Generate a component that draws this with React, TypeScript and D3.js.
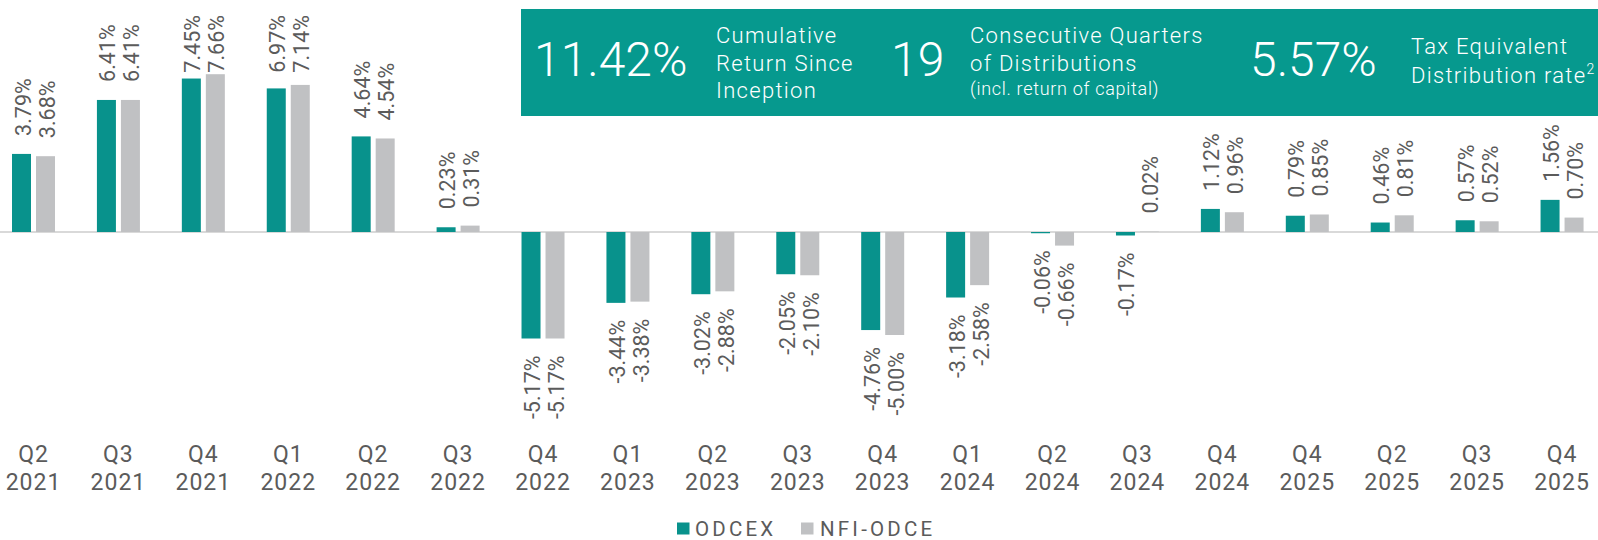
import React from 'react';
import * as d3 from 'd3';

const quarters = ['Q2', 'Q3', 'Q4', 'Q1', 'Q2', 'Q3', 'Q4', 'Q1', 'Q2', 'Q3', 'Q4', 'Q1', 'Q2', 'Q3', 'Q4', 'Q4', 'Q2', 'Q3', 'Q4'];
const years = ['2021', '2021', '2021', '2022', '2022', '2022', '2022', '2023', '2023', '2023', '2023', '2024', '2024', '2024', '2024', '2025', '2025', '2025', '2025'];

const seriesNames = ['ODCEX', 'NFI-ODCE'];
const odcex = [3.79, 6.41, 7.45, 6.97, 4.64, 0.23, -5.17, -3.44, -3.02, -2.05, -4.76, -3.18, -0.06, -0.17, 1.12, 0.79, 0.46, 0.57, 1.56];
const nfiOdce = [3.68, 6.41, 7.66, 7.14, 4.54, 0.31, -5.17, -3.38, -2.88, -2.10, -5.00, -2.58, -0.66, 0.02, 0.96, 0.85, 0.81, 0.52, 0.70];

const TEAL = '#08928C';
const BANNER = '#06998E';
const GRAY = '#C0C1C3';
const TEXT = '#5B5B5B';
const FONT = 'Roboto, "Open Sans", sans-serif';

const width = 1598;
const height = 540;

const App = () => {
  const idx = d3.range(quarters.length);
  const step = 84.92;
  const x0 = 33.5 - step / 2;
  const x = d3.scaleBand<number>()
    .domain(idx)
    .range([x0, x0 + step * idx.length]);

  const xs = d3.scaleBand<string>()
    .domain(seriesNames)
    .range([step / 2 - 21.5, step / 2 + 21.5])
    .paddingInner(5 / 24);

  const zeroY = 232;
  const pxPerPct = 20.6;
  const y = d3.scaleLinear()
    .domain([-6, 8])
    .range([zeroY + 6 * pxPerPct, zeroY - 8 * pxPerPct]);

  const labelSize = 21.5;
  const labelLen = labelSize * 2.7;
  const topLimit = 15;

  const bars = idx.flatMap(i => [
    { i, key: seriesNames[0], v: odcex[i], color: TEAL },
    { i, key: seriesNames[1], v: nfiOdce[i], color: GRAY }
  ]);

  const fmt = (v: number) => `${v.toFixed(2)}%`;

  const mid = { fontSize: '22px', letterSpacing: '1.3px' };

  return (
    <div style={{ position: 'absolute', left: 0, top: 0 }}>
      <svg width={width} height={height} style={{ display: 'block', fontFamily: FONT }}>
        {/* zero line */}
        <line x1={0} x2={width} y1={y(0)} y2={y(0)} stroke="#D9D9D9" strokeWidth={2} />

        {/* bars */}
        {bars.map(b => {
          const bx = (x(b.i) as number) + (xs(b.key) as number);
          const top = Math.min(y(b.v), y(0));
          const h = Math.abs(y(b.v) - y(0));
          return (
            <rect key={`${b.key}-${b.i}`} x={bx} y={top} width={xs.bandwidth()} height={h} fill={b.color} />
          );
        })}

        {/* value labels */}
        {bars.map(b => {
          const cx = (x(b.i) as number) + (xs(b.key) as number) + xs.bandwidth() / 2 + 9;
          let ty: number;
          let anchor: 'start' | 'end';
          if (b.v >= 0) {
            ty = y(b.v) - 18;
            anchor = 'start';
            if (ty - labelLen < topLimit) {
              ty = topLimit;
              anchor = 'end';
            }
          } else {
            ty = y(b.v) + 17;
            anchor = 'end';
          }
          return (
            <text
              key={`l-${b.key}-${b.i}`}
              transform={`translate(${cx}, ${ty}) rotate(-90)`}
              textAnchor={anchor}
              fill={TEXT}
              style={{ fontSize: `${labelSize}px`, fontWeight: 400 }}
            >
              {fmt(b.v)}
            </text>
          );
        })}

        {/* x-axis labels */}
        {idx.map(i => {
          const cx = (x(i) as number) + step / 2;
          return (
            <g key={`x-${i}`} fill={TEXT} style={{ fontSize: '23px', fontWeight: 400, letterSpacing: '1px' }}>
              <text x={cx} y={461.5} textAnchor="middle">{quarters[i]}</text>
              <text x={cx} y={490} textAnchor="middle">{years[i]}</text>
            </g>
          );
        })}

        {/* banner */}
        <g>
          <rect x={521} y={9} width={width - 521} height={107} fill={BANNER} />
          <g fill="#FFFFFF" style={{ fontWeight: 300 }}>
            <text x={534} y={76} style={{ fontSize: '48px' }}>11.42%</text>
            <text x={716} y={43} style={mid}>Cumulative</text>
            <text x={716} y={70.5} style={mid}>Return Since</text>
            <text x={716} y={98} style={mid}>Inception</text>

            <text x={891} y={76} style={{ fontSize: '48px' }}>19</text>
            <text x={970} y={43} style={mid}>Consecutive Quarters</text>
            <text x={970} y={70.5} style={mid}>of Distributions</text>
            <text x={970} y={94.5} style={{ fontSize: '18px', letterSpacing: '0.7px' }}>(incl. return of capital)</text>

            <text x={1250} y={76} style={{ fontSize: '48px' }}>5.57%</text>
            <text x={1411} y={53.5} style={mid}>Tax Equivalent</text>
            <text x={1411} y={82.5} style={mid}>
              Distribution rate
              <tspan dy={-9} style={{ fontSize: '14px', letterSpacing: '0px' }}>2</tspan>
            </text>
          </g>
        </g>

        {/* legend */}
        <g style={{ fontSize: '20.5px', fontWeight: 400, letterSpacing: '3.2px' }} fill={TEXT}>
          <rect x={677} y={522.5} width={12.5} height={12} fill={TEAL} />
          <text x={695} y={535.5}>{seriesNames[0]}</text>
          <rect x={801} y={522.5} width={12.5} height={12} fill={GRAY} />
          <text x={820} y={535.5}>{seriesNames[1]}</text>
        </g>
      </svg>
    </div>
  );
};

export default App;
